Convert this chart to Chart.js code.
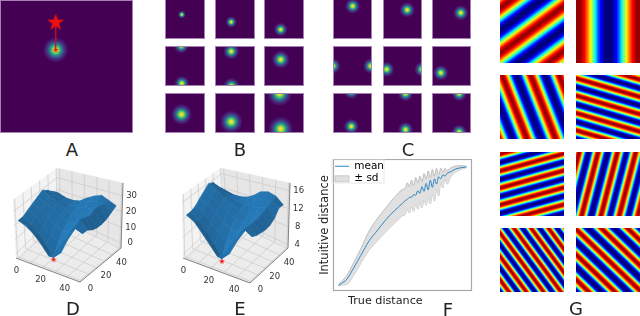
<!DOCTYPE html>
<html>
<head>
<meta charset="utf-8">
<title>Panels</title>
<script src="https://cdn.jsdelivr.net/npm/chart.js@4"></script>
<style>
  html, body { margin: 0; padding: 0; background: #fff; }
  body { position: relative; width: 640px; height: 316px; overflow: hidden; }
  canvas { position: absolute; }
  .tag { position: absolute; width: 30px; margin-left: -15px; text-align: center; font: 18px "DejaVu Sans"; line-height: 20px; color: #222; }
  .axis-name { position: absolute; white-space: nowrap; font: 11.2px "DejaVu Sans"; line-height: 14px; color: #222; }
</style>
</head>
<body>
<script>
// panel A, grid units 0..49
const aBlobX = [20.5];
const aBlobY = [18.4];
const aBlobWidth = [1.6];
const aStarX = [20.5];
const aStarY = [8.3];

// panel B, one list per tile
const bBlobX = [[20.6], [19.8], [20.5], [20.6, 20], [19.8, 20.2], [20.5], [20.2], [19.8], [20.5, 19]];
const bBlobY = [[19.1], [28.2], [37.4], [45.7, 0], [6.6, 49], [16.6], [26.2], [35.3], [44, 0.8]];
const bBlobWidth = [1.7, 2.4, 2.9, 3.1, 3.4, 3.8, 4.4, 4.8, 5.2];

// panel C
const cBlobX = [[24.7], [30.4], [36.2], [0, 47.3], [4.6, 49], [11.1], [23, 23], [28.3, 28.3], [34.2, 34.2]];
const cBlobY = [[8.7], [13.3], [17], [24.5, 24.5], [28.6, 28.6], [32.8], [41, -2], [44.8, 0.8], [0.8, 48]];
const cBlobWidth = [3.3, 3.3, 3.3, 3.3, 3.3, 3.3, 3.3, 3.3, 3.3];

// panel G, crest lines of the red stripes [x1, y1, x2, y2]
const g1Crests = [[-20, 21.7, 70, -44.6], [-20, 56.2, 70, -10], [-20, 90.7, 70, 24.4]];
const g2Crests = [[2, -5, 2, 55], [47.7, -5, 47.7, 55]];
const g3Crests = [[-21.9, -5, 1.4, 55], [-0.5, -5, 23, 55], [21.5, -5, 45, 55], [43.4, -5, 66.9, 55]];
const g4Crests = [[-5, -12.2, 55, 5.3], [-5, 1, 55, 18.5], [-5, 14.3, 55, 31.8], [-5, 27.6, 55, 45.1], [-5, 40.9, 55, 58.3], [-5, 54.1, 55, 71.6]];
const g5Crests = [[-5, 2.9, 55, -13.4], [-5, 15.9, 55, -0.4], [-5, 28.9, 55, 12.6], [-5, 41.9, 55, 25.6], [-5, 54.9, 55, 38.6], [-5, 67.9, 55, 51.6]];
const g6Crests = [[3.8, -5, -11.8, 55], [18.3, -5, 2.7, 55], [33.1, -5, 17.5, 55], [47.1, -5, 31.5, 55], [61.3, -5, 45.7, 55], [75.8, -5, 60.2, 55]];
const g7Crests = [[-46.3, -5, -1.9, 55], [-33, -5, 11.4, 55], [-19.7, -5, 24.7, 55], [-6.5, -5, 37.9, 55], [6.8, -5, 51.2, 55], [20, -5, 64.4, 55], [33.3, -5, 77.7, 55], [46.5, -5, 90.9, 55]];
const g8Crests = [[-5, -42.5, 55, 15.1], [-5, -23.2, 55, 34.4], [-5, -3.9, 55, 53.7], [-5, 15.4, 55, 73], [-5, 34.7, 55, 92.3]];
const gPeriods = [27.8, 45.7, 20.2, 12.7, 12.6, 14, 10.7, 13.2];

// panels D and E, heights on a grid, rows are y, columns are x
const surfaceGrid = [0, 6, 12, 18, 24, 30, 36, 42, 48];
const dHeights = [
  [23, 20.5, 16.5, 11, 5, 9, 17, 24, 30],
  [23, 19, 14, 8, 1.5, 6, 16, 24, 22],
  [25, 21, 16, 12, 8, 11, 20, 27, 22],
  [27, 24, 20, 16, 13, 15, 20, 26, 20],
  [29, 26, 23, 20, 17, 18, 21, 25, 19],
  [31, 28, 25, 22, 20, 20, 22, 27, 19],
  [28, 26, 24, 22, 22, 23, 24, 27, 20],
  [24, 23, 22, 22, 23, 25, 26, 26, 22],
  [20, 18, 16, 19, 23, 26, 28, 26, 24]
];
const eHeights = [
  [13, 12, 10, 8, 6, 7, 10, 12.5, 14],
  [13, 11.5, 9.5, 7, 4.6, 6.3, 9.5, 12.5, 11.5],
  [13.5, 12.5, 10.5, 9, 7.5, 8, 10, 12.5, 11],
  [14.5, 13.5, 12, 10.5, 9.5, 9.5, 10.5, 12.5, 10.8],
  [15.5, 14.5, 13, 12, 11, 10.5, 11, 12.5, 10.6],
  [16.5, 15.5, 14, 13, 12, 11.5, 12, 13, 10.8],
  [16, 15, 13.5, 13, 12.5, 12.5, 13, 13.5, 11.5],
  [14, 13.5, 13, 13, 13.5, 14, 14, 14, 13],
  [12, 11, 10.5, 11.5, 13, 14.5, 15, 14.5, 13]
];
const xyTicks = [0, 20, 40];
const dZTicks = [0, 10, 20, 30];
const eZTicks = [4, 8, 12, 16];
const dMinPoint = [24, 6, 0];
const eMinPoint = [24, 6, 4];

// panel F, both axes 0..100
const distX = [4, 6, 10, 15, 20, 26, 32, 38, 44, 50, 52, 53.5, 55, 56.5, 58, 59.5, 61, 62.5, 64, 65.5, 67, 68.5, 70, 71.5, 73, 74.5, 76, 77.5, 79, 80.5, 82, 85, 88, 92, 96];
const distMean = [4.3, 5.6, 9, 17.7, 27, 38, 46, 54, 60.6, 66.4, 68.5, 69.5, 71, 71, 73, 72.5, 76, 74, 79, 75.5, 81.5, 76.5, 84, 78.5, 85, 81, 86.5, 85, 88, 87, 89, 90.5, 92.3, 93.4, 94];
const distUpper = [5, 7, 12, 21.7, 32, 45.5, 55, 63, 70.7, 77, 78, 82, 79, 84, 80, 86, 82, 87, 83, 89, 85, 91, 86, 92, 87, 93, 88, 93, 90, 93, 91, 93.5, 94.5, 95, 94.5];
const distLower = [3.8, 4.5, 5, 12, 21, 31, 38, 45, 51, 57, 58, 62, 59, 64, 60, 66, 62, 67, 63, 69, 65, 71, 66, 73, 68, 77, 72, 82, 78, 85, 81, 87, 90, 92, 93.5];

const tags = [["A", 72, 140], ["B", 240, 140], ["C", 408, 140], ["D", 73, 299], ["E", 240, 299], ["F", 448, 300], ["G", 576, 299]];

// jet colours from the rim of a stripe in to its crest
const jetLevels = [
  [0.05, "#0000ba"], [0.11, "#0000ff"], [0.2, "#004cff"], [0.3, "#00b3ff"], [0.37, "#00f0f0"],
  [0.45, "#4dffaa"], [0.5, "#7dff7a"], [0.58, "#ceff29"], [0.65, "#ffe600"], [0.72, "#ff9900"],
  [0.8, "#ff4d00"], [0.875, "#ff0000"], [0.94, "#c80000"], [0.98, "#950000"]
];
const viridisStops = [
  [0, "#fde725"], [0.12, "#e0e030"], [0.28, "#5ec962"], [0.42, "#21918c"], [0.58, "#3b528b"],
  [0.72, "#482878"], [0.88, "#46106a"], [1, "rgba(68,1,84,0)"]
];

Chart.register({
  id: "area",
  beforeDraw(chart, args, opts) {
    if (!opts.fill) return;
    const a = chart.chartArea;
    chart.ctx.fillStyle = opts.fill;
    chart.ctx.fillRect(a.left, a.top, a.width, a.height);
  },
  afterDraw(chart, args, opts) {
    if (!opts.border) return;
    const a = chart.chartArea;
    chart.ctx.strokeStyle = opts.border;
    chart.ctx.lineWidth = opts.borderWidth || 1;
    chart.ctx.strokeRect(a.left + 0.5, a.top + 0.5, a.width - 1, a.height - 1);
  }
});

function addCanvas(left, top, w, h) {
  const c = document.createElement("canvas");
  c.width = w;
  c.height = h;
  c.style.left = left + "px";
  c.style.top = top + "px";
  c.style.width = w + "px";
  c.style.height = h + "px";
  document.body.appendChild(c);
  return c;
}

function baseOptions(xMin, xMax, yMin, yMax, area) {
  return {
    responsive: false,
    animation: false,
    devicePixelRatio: 1,
    events: [],
    layout: { padding: 0, autoPadding: false },
    plugins: { legend: { display: false }, tooltip: { enabled: false }, area: area },
    scales: {
      x: { type: "linear", display: false, min: xMin, max: xMax },
      y: { type: "linear", display: false, min: yMin, max: yMax, reverse: true }
    }
  };
}

function blobColor(c) {
  if (!c.raw) return "#fde725";
  const x = c.chart.scales.x.getPixelForValue(c.raw.x);
  const y = c.chart.scales.y.getPixelForValue(c.raw.y);
  // the scales are not laid out yet on the first pass
  if (!isFinite(x) || !isFinite(y)) return "#fde725";
  const g = c.chart.ctx.createRadialGradient(x, y, 0, x, y, c.raw.r);
  viridisStops.forEach(s => g.addColorStop(s[0], s[1]));
  return g;
}

function blobDataset(xs, ys, width, size) {
  return {
    type: "bubble",
    data: xs.map((x, i) => ({ x: x, y: ys[i], r: 3 * width * size / 49 })),
    backgroundColor: blobColor,
    borderWidth: 0,
    hoverBorderWidth: 0,
    clip: 0
  };
}

function starImage(size) {
  const c = document.createElement("canvas");
  c.width = c.height = size;
  const ctx = c.getContext("2d");
  const m = size / 2;
  ctx.fillStyle = "#f01010";
  ctx.beginPath();
  for (let i = 0; i < 10; i++) {
    const r = i % 2 ? m * 0.4 : m;
    const t = -Math.PI / 2 + i * Math.PI / 5;
    ctx.lineTo(m + r * Math.cos(t), m + r * Math.sin(t));
  }
  ctx.fill();
  return c;
}

function blobTile(left, top, w, h, xs, ys, width) {
  new Chart(addCanvas(left, top, w, h), {
    type: "bubble",
    data: { datasets: [blobDataset(xs, ys, width, w)] },
    options: baseOptions(0, 49, 0, 49, { fill: "#440154", border: "#a67fb3" })
  });
}

// panel A
new Chart(addCanvas(0, 0, 133, 133), {
  type: "bubble",
  data: {
    datasets: [
      { type: "scatter", data: [{ x: aStarX[0], y: aStarY[0] }], pointStyle: starImage(18), clip: 0 },
      { type: "scatter", data: [{ x: aBlobX[0], y: aBlobY[0] }], pointStyle: starImage(6), clip: 0 },
      {
        type: "scatter", showLine: true, pointRadius: 0, borderColor: "rgba(190,15,40,0.9)", borderWidth: 1.6,
        data: [{ x: aStarX[0], y: aStarY[0] }, { x: aBlobX[0], y: aBlobY[0] }]
      },
      blobDataset(aBlobX, aBlobY, aBlobWidth[0], 133)
    ]
  },
  options: baseOptions(0, 49, 0, 49, { fill: "#440154", border: "#a67fb3" })
});

// panels B and C
const bLefts = [165, 215, 264];
const cLefts = [333, 383, 432];
const tileTops = [-1, 46, 93];
for (let i = 0; i < 9; i++) {
  const col = i % 3;
  const row = Math.floor(i / 3);
  blobTile(bLefts[col], tileTops[row], 40, 40, bBlobX[i], bBlobY[i], bBlobWidth[i]);
  blobTile(cLefts[col], tileTops[row], 39, 40, cBlobX[i], cBlobY[i], cBlobWidth[i]);
}

// panel G
const gCrests = [g1Crests, g2Crests, g3Crests, g4Crests, g5Crests, g6Crests, g7Crests, g8Crests];
const gLefts = [500, 576];
const gTops = [-1, 75, 152, 228];
gCrests.forEach((crests, i) => {
  const points = [];
  crests.forEach(c => {
    points.push({ x: c[0], y: c[1] }, { x: c[2], y: c[3] }, { x: null, y: null });
  });
  // innermost colour first, dataset 0 ends up on top
  const datasets = jetLevels.slice().reverse().map(l => ({
    data: points,
    showLine: true,
    pointRadius: 0,
    spanGaps: false,
    borderColor: l[1],
    borderWidth: gPeriods[i] * (64 / 49) * Math.acos(2 * l[0] - 1) / Math.PI,
    borderCapStyle: "butt",
    clip: 0
  }));
  new Chart(addCanvas(gLefts[i % 2], gTops[Math.floor(i / 2)], 64, 64), {
    type: "scatter",
    data: { datasets: datasets },
    options: baseOptions(0, 49, 0, 49, { fill: "#00007f" })
  });
});

// panels D and E: trilinear mapping between the corners of the drawn box
function makeProject(box, zMin, zMax) {
  return function (x, y, z) {
    const u = (x + 2) / 53;
    const v = (y + 2) / 53;
    const w = (z - zMin) / (zMax - zMin);
    const mix = k => {
      const bottom = box[0][k] * (1 - u) * (1 - v) + box[1][k] * u * (1 - v) + box[2][k] * u * v + box[3][k] * (1 - u) * v;
      const top = box[4][k] * (1 - u) * (1 - v) + box[5][k] * u * (1 - v) + box[6][k] * u * v + box[7][k] * (1 - u) * v;
      return bottom * (1 - w) + top * w;
    };
    return { x: mix(0), y: mix(1) };
  };
}

function polygon(points, color, edge, edgeWidth) {
  const closed = points.concat([points[0]]);
  return {
    data: closed,
    showLine: true,
    pointRadius: 0,
    fill: color ? "shape" : false,
    backgroundColor: color || "transparent",
    borderColor: edge,
    borderWidth: edgeWidth,
    clip: false
  };
}

function surfacePanel(left, top, w, h, box, zMin, zMax, zTicks, heights, minPoint) {
  const project = makeProject(box, zMin, zMax);
  const sets = [];
  const lo = -2, hi = 51;
  const line = (a, b, color, width) => ({
    data: [project(a[0], a[1], a[2]), project(b[0], b[1], b[2])],
    showLine: true, pointRadius: 0, borderColor: color, borderWidth: width, clip: false
  });
  // panes
  sets.push(polygon([project(lo, lo, zMin), project(hi, lo, zMin), project(hi, hi, zMin), project(lo, hi, zMin)], "#ececec", "#ececec", 0.5));
  sets.push(polygon([project(lo, lo, zMin), project(lo, hi, zMin), project(lo, hi, zMax), project(lo, lo, zMax)], "#f3f3f3", "#f3f3f3", 0.5));
  sets.push(polygon([project(lo, hi, zMin), project(hi, hi, zMin), project(hi, hi, zMax), project(lo, hi, zMax)], "#e6e6e6", "#e6e6e6", 0.5));
  // grid
  const gridColor = "#c9c9c9";
  [0, 10, 20, 30, 40, 50].forEach(t => {
    sets.push(line([t, lo, zMin], [t, hi, zMin], gridColor, 0.7));
    sets.push(line([t, hi, zMin], [t, hi, zMax], gridColor, 0.7));
    sets.push(line([lo, t, zMin], [hi, t, zMin], gridColor, 0.7));
    sets.push(line([lo, t, zMin], [lo, t, zMax], gridColor, 0.7));
  });
  zTicks.forEach(t => {
    sets.push(line([lo, lo, t], [lo, hi, t], gridColor, 0.7));
    sets.push(line([lo, hi, t], [hi, hi, t], gridColor, 0.7));
  });
  sets.push(line([lo, lo, zMin], [hi, lo, zMin], "#666", 0.8));
  sets.push(line([hi, lo, zMin], [hi, hi, zMin], "#666", 0.8));
  sets.push(line([hi, hi, zMin], [hi, hi, zMax], "#666", 0.8));
  // minimum marker under the surface
  const m = project(minPoint[0], minPoint[1], minPoint[2]);
  sets.push({ data: [m], pointStyle: starImage(6), clip: false });
  // facets, far ones first
  const quads = [];
  for (let r = 0; r < surfaceGrid.length - 1; r++) {
    for (let c = 0; c < surfaceGrid.length - 1; c++) {
      const x0 = surfaceGrid[c], x1 = surfaceGrid[c + 1], y0 = surfaceGrid[r], y1 = surfaceGrid[r + 1];
      const a = heights[r][c], b = heights[r][c + 1], d = heights[r + 1][c], e = heights[r + 1][c + 1];
      const scaleZ = 48 / (zMax - zMin);
      const dx = ((b - a + e - d) / 2) / (x1 - x0) * scaleZ;
      const dy = ((d - a + e - b) / 2) / (y1 - y0) * scaleZ;
      const s = (dx + dy + 1) / (Math.sqrt(3) * Math.sqrt(dx * dx + dy * dy + 1));
      const k = 0.62 + 0.42 * (s + 1) / 2;
      const color = "rgb(" + Math.round(31 * k + 6) + "," + Math.round(119 * k) + "," + Math.round(180 * k) + ")";
      quads.push({
        depth: project((x0 + x1) / 2, (y0 + y1) / 2, zMin).y,
        points: [project(x0, y0, a), project(x1, y0, b), project(x1, y1, e), project(x0, y1, d)],
        color: color
      });
    }
  }
  quads.sort((p, q) => p.depth - q.depth);
  quads.forEach(q => sets.push(polygon(q.points, q.color, q.color, 0.6)));
  sets.reverse();

  const options = baseOptions(left, left + w, top, top + h, {});
  const labels = {
    id: "boxLabels",
    afterDraw(chart) {
      const ctx = chart.ctx;
      const sx = chart.scales.x, sy = chart.scales.y;
      ctx.font = "8.5px 'DejaVu Sans'";
      ctx.fillStyle = "#333";
      ctx.textAlign = "center";
      ctx.textBaseline = "middle";
      const put = (text, p, ox, oy) => ctx.fillText(text, sx.getPixelForValue(p.x) + ox, sy.getPixelForValue(p.y) + oy);
      xyTicks.forEach(t => put(String(t), project(t, lo, zMin), -2, 12));
      xyTicks.forEach(t => put(String(t), project(hi, t, zMin), 9, 8));
      zTicks.forEach(t => put(String(t), project(hi, hi, t), 9, 0));
    }
  };
  new Chart(addCanvas(left, top, w, h), {
    type: "scatter",
    data: { datasets: sets },
    options: options,
    plugins: [labels]
  });
}

surfacePanel(0, 160, 160, 156,
  [[16, 258], [80, 282], [121, 248], [58, 217], [13, 200], [80, 212], [123, 183], [57, 168]],
  -3, 38, dZTicks, dHeights, dMinPoint);
surfacePanel(160, 160, 160, 156,
  [[183, 258], [250, 283], [288, 248], [225, 217], [182, 195], [250, 212], [290, 183], [221, 168]],
  3.3, 17.7, eZTicks, eHeights, eMinPoint);

// panel F
const pairs = values => distX.map((x, i) => ({ x: x, y: values[i] }));
const legendFrame = {
  id: "legendFrame",
  afterDraw(chart) {
    const boxes = chart.legend.legendHitBoxes;
    const ctx = chart.ctx;
    const left = boxes[0].left - 3;
    const top = boxes[0].top - 2;
    ctx.strokeStyle = "#e2e2e2";
    ctx.lineWidth = 0.8;
    ctx.strokeRect(left, top, 52, 24);
  }
};
new Chart(addCanvas(318, 159, 162, 157), {
  type: "scatter",
  data: {
    datasets: [
      { label: "mean", data: pairs(distMean), showLine: true, pointRadius: 0, borderColor: "#2f86c1", borderWidth: 1, cubicInterpolationMode: "monotone" },
      { label: "± sd", data: pairs(distUpper), showLine: true, pointRadius: 0, borderColor: "#a8a8a8", borderWidth: 0.7, backgroundColor: "#e0e0e0", fill: "+1", cubicInterpolationMode: "monotone" },
      { label: "lower", data: pairs(distLower), showLine: true, pointRadius: 0, borderColor: "#a8a8a8", borderWidth: 0.7, cubicInterpolationMode: "monotone" }
    ]
  },
  options: {
    responsive: false,
    animation: false,
    devicePixelRatio: 1,
    events: [],
    layout: { padding: { top: 0, right: 8, left: 0, bottom: 25 } },
    plugins: {
      tooltip: { enabled: false },
      area: { border: "#a9a9a9", borderWidth: 1.2 },
      legend: {
        position: "chartArea",
        align: "start",
        labels: {
          color: "#222",
          font: { family: "DejaVu Sans", size: 10.5 },
          usePointStyle: true,
          pointStyleWidth: 14,
          boxHeight: 6,
          padding: 2,
          generateLabels: () => [
            { text: "mean", pointStyle: "line", strokeStyle: "#2f86c1", lineWidth: 1, fillStyle: "#2f86c1", datasetIndex: 0 },
            { text: "± sd", pointStyle: "rect", strokeStyle: "#bbb", lineWidth: 0.7, fillStyle: "#e0e0e0", datasetIndex: 1 }
          ]
        }
      }
    },
    scales: {
      x: { type: "linear", display: false, min: 0, max: 100 },
      y: {
        type: "linear", min: 0, max: 100,
        grid: { display: false }, ticks: { display: false }, border: { display: false },
        title: { display: true, text: "Intuitive distance", color: "#222", font: { family: "DejaVu Sans", size: 11.5 }, padding: { top: 0, bottom: 0 } },
        afterFit(s) { s.width = 15; }
      }
    }
  },
  plugins: [legendFrame]
});

const xName = document.createElement("div");
xName.className = "axis-name";
xName.textContent = "True distance";
xName.style.left = "348px";
xName.style.top = "294px";
document.body.appendChild(xName);

tags.forEach(t => {
  const d = document.createElement("div");
  d.className = "tag";
  d.textContent = t[0];
  d.style.left = t[1] + "px";
  d.style.top = t[2] + "px";
  document.body.appendChild(d);
});
</script>
</body>
</html>
